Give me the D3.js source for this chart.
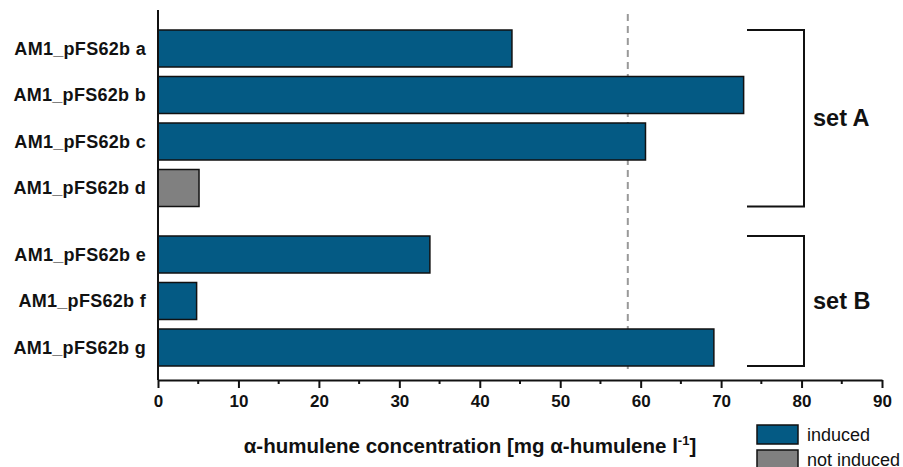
<!DOCTYPE html>
<html>
<head>
<meta charset="utf-8">
<script src="https://d3js.org/d3.v7.min.js"></script>
<style>
  body { margin: 0; background: #fff; }
  text { font-family: "Liberation Sans", Arial, sans-serif; }
</style>
</head>
<body>
<svg id="drawing_region"></svg>
<script>
// data
var labels = ['AM1_pFS62b a', 'AM1_pFS62b b', 'AM1_pFS62b c', 'AM1_pFS62b d',
              'AM1_pFS62b e', 'AM1_pFS62b f', 'AM1_pFS62b g'];
var values = [44.0, 72.8, 60.6, 5.1, 33.8, 4.8, 69.1];
var induced = [true, true, true, false, true, true, true];
var sets = ['A', 'A', 'A', 'A', 'B', 'B', 'B'];
var setNames = ['set A', 'set B'];
var threshold = 58.4;
var xticks = [0, 10, 20, 30, 40, 50, 60, 70, 80, 90];
var legendLabels = ['induced', 'not induced'];

var width = 903, height = 467;
var colBlue = '#045a84', colGrey = '#808080';

var svg = d3.select('#drawing_region')
    .attr('width', width)
    .attr('height', height);

// x scale: 0..90
var xscale = d3.scaleLinear().domain([0, 90]).range([158, 882]);

// y: slot index, set B shifted down by an extra gap
var slot = function(i) { return i + (sets[i] === 'B' ? 0.43 : 0); };
var yscale = d3.scaleLinear().domain([0, 6.43]).range([48.5, 347.5]);
var barH = 37;

var axisY = 380;

// dashed reference line
svg.append('line')
    .attr('x1', xscale(threshold)).attr('x2', xscale(threshold))
    .attr('y1', 14).attr('y2', 373)
    .attr('stroke', '#999').attr('stroke-width', 2)
    .attr('stroke-dasharray', '7,5');

// bars
svg.selectAll('rect.bar').data(values).enter()
    .append('rect')
    .attr('class', 'bar')
    .attr('x', xscale(0))
    .attr('y', (d, i) => yscale(slot(i)) - barH / 2)
    .attr('width', d => xscale(d) - xscale(0))
    .attr('height', barH)
    .attr('fill', (d, i) => induced[i] ? colBlue : colGrey)
    .attr('stroke', '#111')
    .attr('stroke-width', 1.5);

// category labels
svg.selectAll('text.cat').data(labels).enter()
    .append('text')
    .attr('class', 'cat')
    .attr('x', 146)
    .attr('y', (d, i) => yscale(slot(i)))
    .attr('dy', '0.35em')
    .attr('text-anchor', 'end')
    .attr('font-size', 18)
    .attr('letter-spacing', 0.3)
    .attr('font-weight', 'bold')
    .attr('fill', '#111')
    .text(d => d);

// x axis
var xaxis = d3.axisBottom(xscale)
    .tickValues(xticks)
    .tickSize(8)
    .tickSizeOuter(0)
    .tickPadding(7);
var xg = svg.append('g')
    .attr('transform', `translate(0, ${axisY})`)
    .call(xaxis);
xg.select('.domain').attr('stroke', '#111').attr('stroke-width', 2);
xg.selectAll('.tick line').attr('stroke', '#111').attr('stroke-width', 2);
xg.selectAll('.tick text')
    .attr('font-size', 17)
    .attr('font-weight', 'bold')
    .attr('fill', '#111')
    .attr('font-family', '"Liberation Sans", Arial, sans-serif');

// minor ticks
var minor = d3.range(5, 90, 10);
svg.selectAll('line.minor').data(minor).enter()
    .append('line')
    .attr('x1', d => xscale(d)).attr('x2', d => xscale(d))
    .attr('y1', axisY).attr('y2', axisY + 4)
    .attr('stroke', '#111').attr('stroke-width', 2);

// y axis line
svg.append('line')
    .attr('x1', xscale(0)).attr('x2', xscale(0))
    .attr('y1', 10).attr('y2', axisY)
    .attr('stroke', '#111').attr('stroke-width', 2);

// x axis title
var title = svg.append('text')
    .attr('x', 470).attr('y', 453)
    .attr('text-anchor', 'middle')
    .attr('font-size', 20.5)
    .attr('font-weight', 'bold')
    .attr('fill', '#111');
title.append('tspan').text('α-humulene concentration [mg α-humulene l');
title.append('tspan').attr('font-size', 13).attr('dy', -8).text('-1');
title.append('tspan').attr('dy', 8).text(']');

// brackets for sets
var bx0 = 747, bx1 = 804;
setNames.forEach(function(name, k) {
    var key = name.slice(-1);
    var idx = sets.map((s, i) => s === key ? i : -1).filter(i => i >= 0);
    var top = yscale(slot(idx[0])) - barH / 2;
    var bot = yscale(slot(idx[idx.length - 1])) + barH / 2;
    svg.append('path')
        .attr('d', `M${bx0},${top}H${bx1}V${bot}H${bx0}`)
        .attr('fill', 'none')
        .attr('stroke', '#111')
        .attr('stroke-width', 2);
    svg.append('text')
        .attr('x', 813)
        .attr('y', (top + bot) / 2)
        .attr('dy', '0.35em')
        .attr('font-size', 23.5)
        .attr('font-weight', 'bold')
        .attr('fill', '#111')
        .text(name);
});

// legend
var lg = svg.append('g');
legendLabels.forEach(function(name, k) {
    var y = 425 + k * 25;
    lg.append('rect')
        .attr('x', 757).attr('y', y)
        .attr('width', 41).attr('height', 19)
        .attr('fill', k === 0 ? colBlue : colGrey)
        .attr('stroke', '#111').attr('stroke-width', 1.5);
    lg.append('text')
        .attr('x', 807).attr('y', y + 10)
        .attr('dy', '0.35em')
        .attr('font-size', 18)
        .attr('fill', '#111')
        .text(name);
});
</script>
</body>
</html>
